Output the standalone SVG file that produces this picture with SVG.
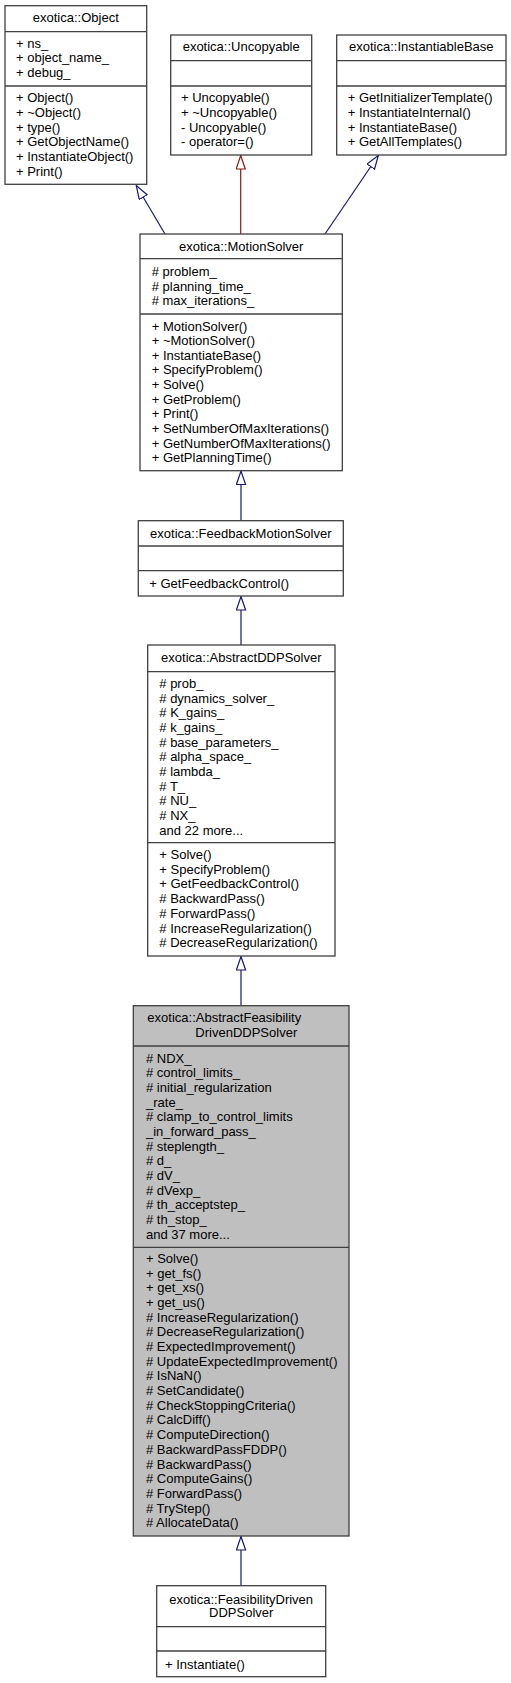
<svg xmlns="http://www.w3.org/2000/svg" width="511" height="1683" viewBox="0 0 511 1683">
<style>
text{font-family:"Liberation Sans",Arial,sans-serif;font-size:13px;fill:#000}
.box{fill:#fff;stroke:#404040;stroke-width:1.3}
.sel{fill:#bfbfbf;stroke:#404040;stroke-width:1.3}
.sep{stroke:#404040;stroke-width:1.3}
.c{text-anchor:middle}
.e{fill:none;stroke:#191970;stroke-width:1.2}
.r{fill:none;stroke:#8b1a1a;stroke-width:1.2}
</style>
<defs>
<marker id="ab" markerUnits="userSpaceOnUse" markerWidth="16" markerHeight="12" refX="14" refY="5" orient="auto">
<path d="M0.5,0.4 L14,5 L0.5,9.6 Z" fill="#fff" stroke="#191970" stroke-width="1.2"/>
</marker>
<marker id="ar" markerUnits="userSpaceOnUse" markerWidth="16" markerHeight="12" refX="14" refY="5" orient="auto">
<path d="M0.5,0.4 L14,5 L0.5,9.6 Z" fill="#fff" stroke="#8b1a1a" stroke-width="1.2"/>
</marker>
</defs>
<g id="edges">
<path class="e" d="M165,234 L136.3,185.5" marker-end="url(#ab)"/>
<path class="r" d="M240.7,234 L240.7,155.5" marker-end="url(#ar)"/>
<path class="e" d="M325,234 L378.3,155.5" marker-end="url(#ab)"/>
<path class="e" d="M241,520.7 L241,471" marker-end="url(#ab)"/>
<path class="e" d="M241,645 L241,596.5" marker-end="url(#ab)"/>
<path class="e" d="M241,1005.7 L241,956.5" marker-end="url(#ab)"/>
<path class="e" d="M241,1585.7 L241,1536.5" marker-end="url(#ab)"/>
</g>
<g id="Object">
<rect class="box" x="5" y="5.7" width="141.7" height="178.6"/>
<line class="sep" x1="5" y1="31.7" x2="146.7" y2="31.7"/>
<line class="sep" x1="5" y1="86" x2="146.7" y2="86"/>
<text class="c" x="75.8" y="22">exotica::Object</text>
<text x="16" y="47.8">+ ns_</text>
<text x="16" y="62.2">+ object_name_</text>
<text x="16" y="76.8">+ debug_</text>
<text x="16" y="102.2">+ Object()</text>
<text x="16" y="116.8">+ ~Object()</text>
<text x="16" y="131.5">+ type()</text>
<text x="16" y="146.2">+ GetObjectName()</text>
<text x="16" y="160.8">+ InstantiateObject()</text>
<text x="16" y="175.5">+ Print()</text>
</g>
<g id="Uncopyable">
<rect class="box" x="170.7" y="35" width="141" height="120"/>
<line class="sep" x1="170.7" y1="60.7" x2="311.7" y2="60.7"/>
<line class="sep" x1="170.7" y1="86" x2="311.7" y2="86"/>
<text class="c" x="241.2" y="51.2">exotica::Uncopyable</text>
<text x="181" y="102.2">+ Uncopyable()</text>
<text x="181" y="116.8">+ ~Uncopyable()</text>
<text x="181" y="131.5">- Uncopyable()</text>
<text x="181" y="146.2">- operator=()</text>
</g>
<g id="InstantiableBase">
<rect class="box" x="336.7" y="35" width="169.3" height="120"/>
<line class="sep" x1="336.7" y1="60.7" x2="506" y2="60.7"/>
<line class="sep" x1="336.7" y1="86" x2="506" y2="86"/>
<text class="c" x="421.3" y="51.2">exotica::InstantiableBase</text>
<text x="347.7" y="102.2">+ GetInitializerTemplate()</text>
<text x="347.7" y="116.8">+ InstantiateInternal()</text>
<text x="347.7" y="131.5">+ InstantiateBase()</text>
<text x="347.7" y="146.2">+ GetAllTemplates()</text>
</g>
<g id="MotionSolver">
<rect class="box" x="140" y="234" width="202.3" height="236.7"/>
<line class="sep" x1="140" y1="258.7" x2="342.3" y2="258.7"/>
<line class="sep" x1="140" y1="314" x2="342.3" y2="314"/>
<text class="c" x="241.2" y="250.5">exotica::MotionSolver</text>
<text x="151.7" y="276.2"># problem_</text>
<text x="151.7" y="290.6"># planning_time_</text>
<text x="151.7" y="305.2"># max_iterations_</text>
<text x="151.7" y="330.5">+ MotionSolver()</text>
<text x="151.7" y="345.1">+ ~MotionSolver()</text>
<text x="151.7" y="359.8">+ InstantiateBase()</text>
<text x="151.7" y="374.4">+ SpecifyProblem()</text>
<text x="151.7" y="389">+ Solve()</text>
<text x="151.7" y="403.7">+ GetProblem()</text>
<text x="151.7" y="418.3">+ Print()</text>
<text x="151.7" y="432.9">+ SetNumberOfMaxIterations()</text>
<text x="151.7" y="447.6">+ GetNumberOfMaxIterations()</text>
<text x="151.7" y="462.2">+ GetPlanningTime()</text>
</g>
<g id="FeedbackMotionSolver">
<rect class="box" x="138.3" y="520.7" width="205" height="75.3"/>
<line class="sep" x1="138.3" y1="546" x2="343.3" y2="546"/>
<line class="sep" x1="138.3" y1="570.7" x2="343.3" y2="570.7"/>
<text class="c" x="240.8" y="537.8">exotica::FeedbackMotionSolver</text>
<text x="149.3" y="587.8">+ GetFeedbackControl()</text>
</g>
<g id="AbstractDDPSolver">
<rect class="box" x="147.7" y="645" width="187.3" height="311"/>
<line class="sep" x1="147.7" y1="671.7" x2="335" y2="671.7"/>
<line class="sep" x1="147.7" y1="842.7" x2="335" y2="842.7"/>
<text class="c" x="241.3" y="662.2">exotica::AbstractDDPSolver</text>
<text x="159.3" y="687.8"># prob_</text>
<text x="159.3" y="702.5"># dynamics_solver_</text>
<text x="159.3" y="717.1"># K_gains_</text>
<text x="159.3" y="731.8"># k_gains_</text>
<text x="159.3" y="746.5"># base_parameters_</text>
<text x="159.3" y="761.2"># alpha_space_</text>
<text x="159.3" y="775.8"># lambda_</text>
<text x="159.3" y="790.5"># T_</text>
<text x="159.3" y="805.2"># NU_</text>
<text x="159.3" y="819.8"># NX_</text>
<text x="159.3" y="834.5">and 22 more...</text>
<text x="159.3" y="858.8">+ Solve()</text>
<text x="159.3" y="873.5">+ SpecifyProblem()</text>
<text x="159.3" y="888.3">+ GetFeedbackControl()</text>
<text x="159.3" y="903"># BackwardPass()</text>
<text x="159.3" y="917.7"># ForwardPass()</text>
<text x="159.3" y="932.5"># IncreaseRegularization()</text>
<text x="159.3" y="947.2"># DecreaseRegularization()</text>
</g>
<g id="AbstractFeasibilityDrivenDDPSolver">
<rect class="sel" x="133.3" y="1005.7" width="215.7" height="530.3"/>
<line class="sep" x1="133.3" y1="1046" x2="349" y2="1046"/>
<line class="sep" x1="133.3" y1="1247.3" x2="349" y2="1247.3"/>
<text class="c" x="224.3" y="1022.2">exotica::AbstractFeasibility</text>
<text class="c" x="246.3" y="1037.2">DrivenDDPSolver</text>
<text x="146" y="1062.8"># NDX_</text>
<text x="146" y="1077.4"># control_limits_</text>
<text x="146" y="1092.1"># initial_regularization</text>
<text x="146" y="1106.7">_rate_</text>
<text x="146" y="1121.4"># clamp_to_control_limits</text>
<text x="146" y="1136">_in_forward_pass_</text>
<text x="146" y="1150.6"># steplength_</text>
<text x="146" y="1165.3"># d_</text>
<text x="146" y="1179.9"># dV_</text>
<text x="146" y="1194.6"># dVexp_</text>
<text x="146" y="1209.2"># th_acceptstep_</text>
<text x="146" y="1223.8"># th_stop_</text>
<text x="146" y="1238.5">and 37 more...</text>
<text x="146" y="1262.8">+ Solve()</text>
<text x="146" y="1277.5">+ get_fs()</text>
<text x="146" y="1292.2">+ get_xs()</text>
<text x="146" y="1306.9">+ get_us()</text>
<text x="146" y="1321.6"># IncreaseRegularization()</text>
<text x="146" y="1336.3"># DecreaseRegularization()</text>
<text x="146" y="1351"># ExpectedImprovement()</text>
<text x="146" y="1365.6"># UpdateExpectedImprovement()</text>
<text x="146" y="1380.3"># IsNaN()</text>
<text x="146" y="1395"># SetCandidate()</text>
<text x="146" y="1409.7"># CheckStoppingCriteria()</text>
<text x="146" y="1424.4"># CalcDiff()</text>
<text x="146" y="1439.1"># ComputeDirection()</text>
<text x="146" y="1453.8"># BackwardPassFDDP()</text>
<text x="146" y="1468.5"># BackwardPass()</text>
<text x="146" y="1483.2"># ComputeGains()</text>
<text x="146" y="1497.9"># ForwardPass()</text>
<text x="146" y="1512.5"># TryStep()</text>
<text x="146" y="1527.2"># AllocateData()</text>
</g>
<g id="FeasibilityDrivenDDPSolver">
<rect class="box" x="156.7" y="1585.7" width="169" height="91"/>
<line class="sep" x1="156.7" y1="1626.7" x2="325.7" y2="1626.7"/>
<line class="sep" x1="156.7" y1="1651" x2="325.7" y2="1651"/>
<text class="c" x="241.2" y="1603.5">exotica::FeasibilityDriven</text>
<text class="c" x="241.2" y="1617.2">DDPSolver</text>
<text x="165" y="1668.5">+ Instantiate()</text>
</g>
</svg>
